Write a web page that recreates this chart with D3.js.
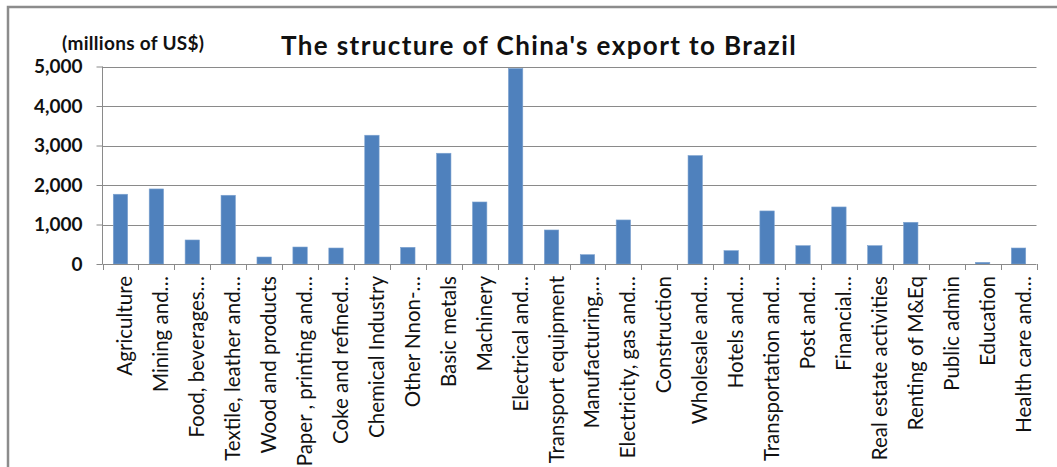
<!DOCTYPE html>
<html><head><meta charset="utf-8">
<script src="https://cdn.jsdelivr.net/npm/d3@7"></script>
<style>
body{margin:0;background:#fff;}
svg{display:block;}
</style></head>
<body>
<svg id="chart" width="1057" height="467"></svg>
<script>
const categories = ["Agriculture","Mining and…","Food, beverages…","Textile, leather and…","Wood and products","Paper , printing and…","Coke and refined…","Chemical Industry","Other Nnon-…","Basic metals","Machinery","Electrical and…","Transport equipment","Manufacturing,…","Electricity, gas and…","Construction","Wholesale and…","Hotels and…","Transportation and…","Post and…","Financial…","Real estate activities","Renting of M&Eq","Public admin","Education","Health care and…"];
const values = [1766,1900,608,1740,177,430,405,3260,422,2804,1570,4950,861,236,1115,0,2745,338,1343,464,1444,464,1056,0,42,405];
const yTicks = [0,1000,2000,3000,4000,5000];
const title = "The structure of China's export to Brazil";
const unitLabel = "(millions of US$)";

const svg = d3.select("#chart");
const font = "Lato, 'Open Sans', sans-serif";
const pLeft = 102.5, pRight = 1036.5, pTop = 66.5, pBottom = 264;

// frame
svg.append("path").attr("d","M8,467 V7 H1057").attr("fill","none").attr("stroke","#8c8c8c").attr("stroke-width",2.5);

const x = d3.scaleBand().domain(categories).range([pLeft,pRight]).paddingInner(0.6).paddingOuter(0.3);
const y = d3.scaleLinear().domain([0,5000]).range([pBottom,pTop]);

// gridlines
svg.append("g").selectAll("line").data(yTicks.filter(d=>d>0)).join("line")
  .attr("x1",pLeft).attr("x2",pRight).attr("y1",d=>Math.round(y(d))+0.5).attr("y2",d=>Math.round(y(d))+0.5)
  .attr("stroke","#8a8a8a").attr("stroke-width",1);

// bars
svg.append("g").selectAll("rect").data(values).join("rect")
  .attr("x",(d,i)=>x(categories[i]))
  .attr("width",x.bandwidth())
  .attr("y",d=>y(d))
  .attr("height",d=>pBottom-y(d))
  .attr("fill","#4f81bd")
  .attr("stroke",d=>d>0?"#7ea3d0":"none").attr("stroke-width",0.6);

// y axis
const yAxis = d3.axisLeft(y).tickValues(yTicks).tickSize(6).tickPadding(14).tickFormat(d3.format(","));
const gy = svg.append("g").attr("transform",`translate(${pLeft},0)`).call(yAxis);
gy.select(".domain").attr("stroke","#8a8a8a").attr("d",`M0,${pTop}V${pBottom}`);
gy.selectAll(".tick line").attr("stroke","#8a8a8a");
gy.selectAll(".tick text").attr("font-family",font).attr("font-size",19).attr("font-weight","bold").attr("fill","#111");

// x axis
const bounds = d3.range(categories.length+1).map(i=>pLeft+i*(pRight-pLeft)/categories.length);
svg.append("line").attr("x1",pLeft).attr("x2",pRight).attr("y1",pBottom+0.5).attr("y2",pBottom+0.5).attr("stroke","#8a8a8a");
svg.append("g").selectAll("line").data(bounds).join("line")
  .attr("x1",d=>Math.round(d)+0.5).attr("x2",d=>Math.round(d)+0.5).attr("y1",pBottom).attr("y2",pBottom+6)
  .attr("stroke","#8a8a8a");
svg.append("g").selectAll("text").data(categories).join("text")
  .attr("transform",d=>`translate(${x(d)+x.bandwidth()/2+4},${pBottom+12}) rotate(-90)`)
  .attr("text-anchor","end").attr("dominant-baseline","central")
  .attr("font-family",font).attr("font-size",20.5).attr("fill","#111")
  .text(d=>d);

// title
svg.append("text").attr("x",539).attr("y",55).attr("text-anchor","middle")
  .attr("font-family",font).attr("font-size",26).attr("font-weight","bold").attr("letter-spacing",1.4).attr("fill","#111").text(title);
svg.append("text").attr("x",62).attr("y",50)
  .attr("font-family",font).attr("font-size",19).attr("font-weight","bold").attr("letter-spacing",0.3).attr("fill","#111").text(unitLabel);
</script>
</body></html>
